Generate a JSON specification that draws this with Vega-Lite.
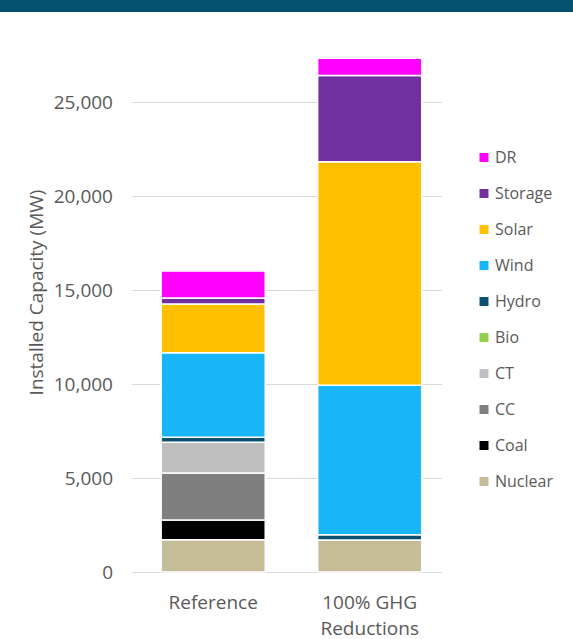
{
  "$schema": "https://vega.github.io/schema/vega-lite/v6.json",
  "padding": {"left": 0, "top": 0, "right": 0, "bottom": 4},
  "autosize": {"type": "pad"},
  "bounds": "flush",
  "center": true,
  "spacing": 0,
  "config": {
    "view": {"stroke": null},
    "font": "Open Sans",
    "axis": {"labelColor": "#595959", "titleColor": "#595959", "labelFont": "Open Sans", "titleFont": "Open Sans"},
    "legend": {"labelFont": "Open Sans"}
  },
  "vconcat": [
    {
      "width": 573,
      "height": 12,
      "view": {"fill": "#03506f", "stroke": null},
      "data": {"values": []},
      "mark": "rect",
      "encoding": {}
    },
    {
      "width": 310,
      "height": 560,
      "data": {
        "values": [
          {"scenario": "Reference", "tech": "Nuclear", "rank": 1, "mw": 1720},
          {"scenario": "Reference", "tech": "Coal", "rank": 2, "mw": 1050},
          {"scenario": "Reference", "tech": "CC", "rank": 3, "mw": 2500},
          {"scenario": "Reference", "tech": "CT", "rank": 4, "mw": 1630},
          {"scenario": "Reference", "tech": "Hydro", "rank": 6, "mw": 270},
          {"scenario": "Reference", "tech": "Wind", "rank": 7, "mw": 4490},
          {"scenario": "Reference", "tech": "Solar", "rank": 8, "mw": 2590},
          {"scenario": "Reference", "tech": "Storage", "rank": 9, "mw": 320},
          {"scenario": "Reference", "tech": "DR", "rank": 10, "mw": 1440},
          {"scenario": "100% GHG Reductions", "tech": "Nuclear", "rank": 1, "mw": 1700},
          {"scenario": "100% GHG Reductions", "tech": "Hydro", "rank": 6, "mw": 280},
          {"scenario": "100% GHG Reductions", "tech": "Wind", "rank": 7, "mw": 7960},
          {"scenario": "100% GHG Reductions", "tech": "Solar", "rank": 8, "mw": 11880},
          {"scenario": "100% GHG Reductions", "tech": "Storage", "rank": 9, "mw": 4590},
          {"scenario": "100% GHG Reductions", "tech": "DR", "rank": 10, "mw": 920}
        ]
      },
      "mark": {"type": "bar", "stroke": "white", "strokeWidth": 1.5},
      "encoding": {
        "x": {
          "field": "scenario",
          "type": "nominal",
          "sort": ["Reference", "100% GHG Reductions"],
          "scale": {"paddingInner": 0.335, "paddingOuter": 0.158, "align": 0.6},
          "axis": {
            "title": null,
            "labelAngle": 0,
            "labelFontSize": 19,
            "labelPadding": 21,
            "labelLineHeight": 26,
            "ticks": false,
            "domain": false,
            "labelExpr": "datum.label == '100% GHG Reductions' ? ['100% GHG', 'Reductions'] : datum.label"
          }
        },
        "y": {
          "field": "mw",
          "type": "quantitative",
          "stack": "zero",
          "scale": {"domain": [0, 29790], "nice": false},
          "axis": {
            "title": "Installed Capacity (MW)",
            "values": [0, 5000, 10000, 15000, 20000, 25000],
            "format": ",.0f",
            "grid": true,
            "gridColor": "#d9d9d9",
            "gridWidth": 1,
            "domain": false,
            "ticks": false,
            "labelPadding": 19,
            "labelFontSize": 19,
            "titleFontSize": 19,
            "titleFontWeight": "normal",
            "titlePadding": 7
          }
        },
        "color": {
          "field": "tech",
          "type": "nominal",
          "scale": {
            "domain": ["DR", "Storage", "Solar", "Wind", "Hydro", "Bio", "CT", "CC", "Coal", "Nuclear"],
            "range": ["#ff00ff", "#7030a0", "#ffc000", "#19b5f9", "#0d5170", "#92d050", "#bfbfbf", "#7f7f7f", "#000000", "#c4bd97"]
          },
          "legend": {
            "orient": "none",
            "legendX": 476,
            "legendY": 149.5,
            "title": null,
            "symbolType": "square",
            "symbolSize": 81,
            "symbolStrokeWidth": 0,
            "labelFontSize": 16,
            "labelColor": "#595959",
            "labelOffset": 3,
            "rowPadding": 20,
            "padding": 0
          }
        },
        "order": {"field": "rank", "type": "quantitative"}
      }
    }
  ]
}
